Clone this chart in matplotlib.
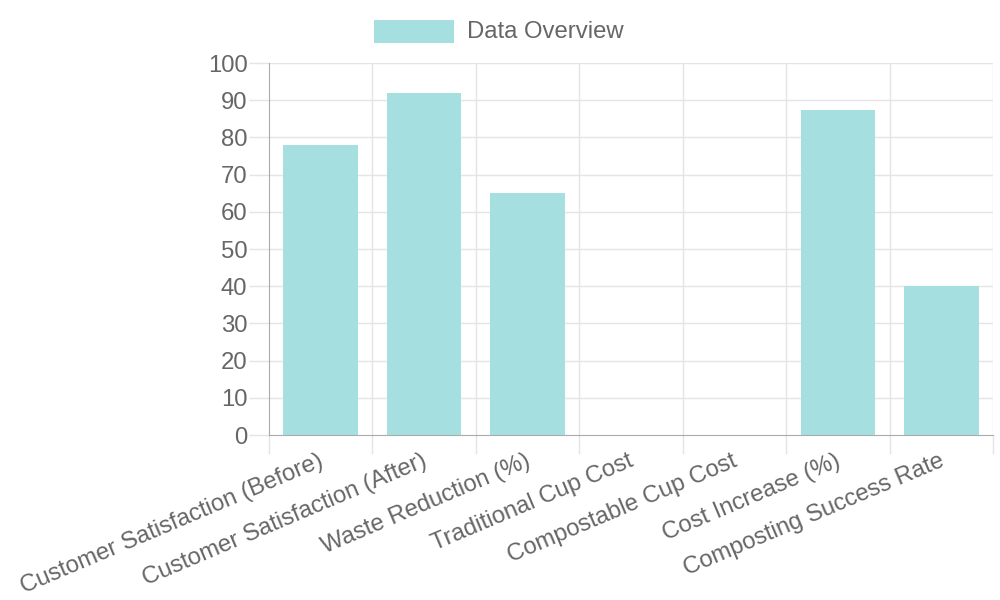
import matplotlib
matplotlib.use("Agg")
import matplotlib.pyplot as plt
from matplotlib.patches import Rectangle

# Data
categories = [
    "Customer Satisfaction (Before)", "Customer Satisfaction (After)", "Waste Reduction (%)",
    "Traditional Cup Cost", "Compostable Cup Cost", "Cost Increase (%)", "Composting Success Rate"
]
values = [78, 92, 65, 0.1, 0.12, 87.5, 40]
y_ticks = list(range(0, 101, 10))

fill = "#a5dfdf"
text_col = "#666666"
grid_col = "#e4e4e4"
axis_col = "#aaaaaa"
fs = 17.2

plt.rcParams["font.family"] = ["Liberation Sans", "DejaVu Sans"]

fig = plt.figure(figsize=(10, 6), dpi=100)
ax = fig.add_axes([0.269, 1 - 435 / 600, 0.724, 372 / 600])

x = list(range(len(categories)))
ax.bar(x, values, width=0.72, color=fill, edgecolor="none", zorder=2)

ax.set_xlim(-0.5, len(categories) - 0.5)
ax.set_ylim(0, 100)
ax.set_yticks(y_ticks)
ax.set_yticklabels([str(v) for v in y_ticks], fontsize=fs, color=text_col)

# vertical grid at category boundaries
bounds = [i - 0.5 for i in range(len(categories) + 1)]
for b in bounds[1:]:
    ax.axvline(b, color=grid_col, lw=1, zorder=1)
for t in y_ticks[1:]:
    ax.axhline(t, color=grid_col, lw=1, zorder=1)

ax.set_xticks(bounds)
ax.set_xticklabels([""] * len(bounds))
ax.tick_params(axis="x", length=14, color=grid_col, width=1)
ax.tick_params(axis="y", length=14.5, color=grid_col, width=1, pad=1)

for i, lab in enumerate(categories):
    ax.annotate(lab, xy=(i, 0), xycoords=("data", "axes fraction"),
                xytext=(-2, -11), textcoords="offset points",
                rotation=23, rotation_mode="anchor", ha="right", va="top",
                fontsize=fs, color=text_col)

for side in ["top", "right"]:
    ax.spines[side].set_visible(False)
ax.spines["left"].set_color(axis_col)
ax.spines["bottom"].set_color(axis_col)

# legend
fig.patches.append(Rectangle((374 / 1000, 1 - 43 / 600), 80 / 1000, 23 / 600,
                             transform=fig.transFigure, facecolor=fill, edgecolor="none"))
fig.text(467 / 1000, 1 - 32 / 600, "Data Overview", fontsize=fs, color=text_col,
         ha="left", va="center")

fig.savefig("out.png", dpi=100)
